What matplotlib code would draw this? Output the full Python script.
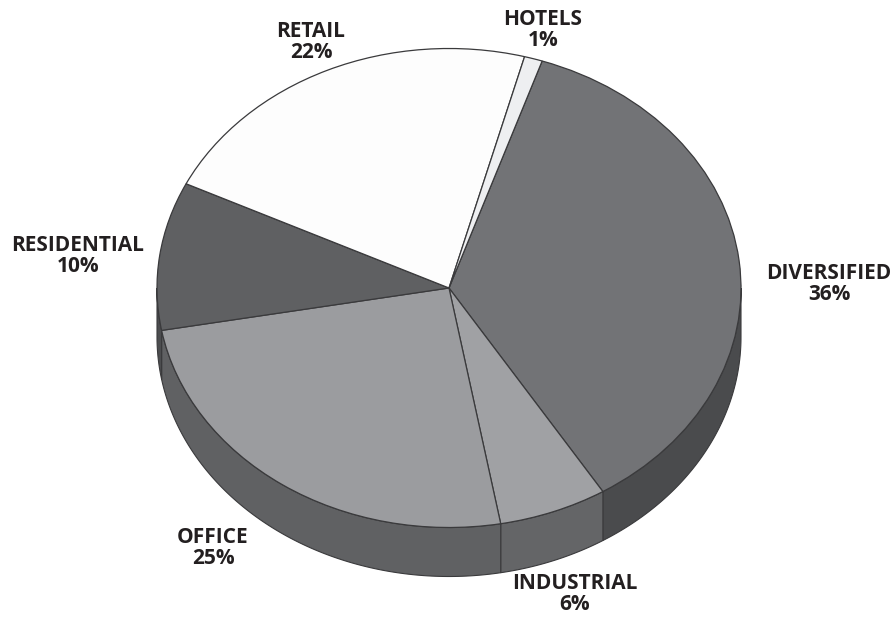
import numpy as np
import matplotlib
matplotlib.use("Agg")
import matplotlib.pyplot as plt

categories = ["DIVERSIFIED", "INDUSTRIAL", "OFFICE", "RESIDENTIAL", "RETAIL", "HOTELS"]
shares = [36, 6, 25, 10, 22, 1]
top_colors = ["#727376", "#a0a1a4", "#9b9c9f", "#5f6062", "#fdfdfd", "#eeeff1"]
side_colors = ["#4a4b4d", "#646567", "#606163", "#4c4d4f", "#ffffff", "#ffffff"]

W, H = 896, 617
CX, CY, RX, RY, DEPTH = 449.0, 288.0, 292.0, 239.5, 49.0
START = 71.4
EDGE = "#3a3a3c"

plt.rcParams["font.family"] = ["Open Sans", "DejaVu Sans"]
fig = plt.figure(figsize=(W / 100, H / 100), dpi=100)
ax = fig.add_axes([0, 0, 1, 1])

d = DEPTH / RY
total = sum(shares)
a = START
for name, v, col in zip(categories, shares, side_colors):
    b = a - 360 * v / total
    hi = min(a, 0.0)
    lo = max(b, -180.0)
    if hi > lo:
        t = np.linspace(np.radians(lo), np.radians(hi), 120)
        xs = np.r_[np.cos(t), np.cos(t[::-1])]
        ys = np.r_[np.sin(t), np.sin(t[::-1]) - d]
        ax.fill(xs, ys, facecolor=col, edgecolor=EDGE, linewidth=0.8, zorder=1)
    a = b

ax.pie(shares, colors=top_colors, startangle=START, counterclock=False,
       radius=1.0, center=(0, 0),
       wedgeprops=dict(edgecolor=EDGE, linewidth=0.9, zorder=3))

ax.set_aspect("auto")
ax.set_xlim(-CX / RX, (W - CX) / RX)
ax.set_ylim((CY - H) / RY, CY / RY)
ax.axis("off")

label_pos = {"DIVERSIFIED": (829, 284), "INDUSTRIAL": (575, 594), "OFFICE": (213, 548),
             "RESIDENTIAL": (78, 256), "RETAIL": (311, 42), "HOTELS": (543, 30)}
for name, v in zip(categories, shares):
    px, py = label_pos[name]
    ax.text((px - CX) / RX, (CY - py) / RY, f"{name}\n{v}%", ha="center", va="center",
            fontsize=15.0, fontweight="bold", color="#231f20", linespacing=0.95, zorder=5)

fig.savefig("out.png", dpi=100, facecolor="white")
